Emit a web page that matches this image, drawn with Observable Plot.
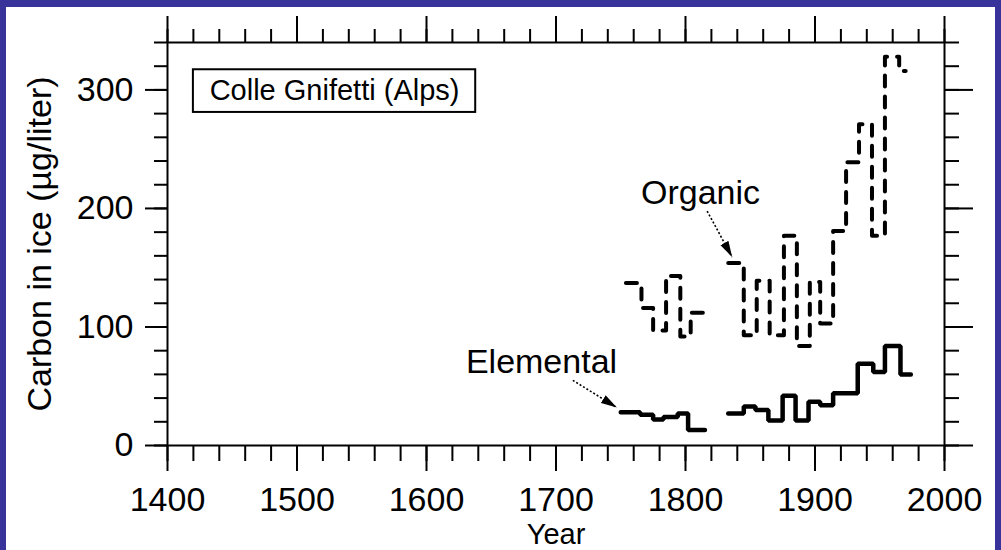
<!DOCTYPE html>
<html>
<head>
<meta charset="utf-8">
<script src="https://cdn.jsdelivr.net/npm/d3@7"></script>
<script src="https://cdn.jsdelivr.net/npm/@observablehq/plot@0.6"></script>
<style>
  html, body { margin: 0; padding: 0; background: #37339a; width: 1001px; height: 550px; overflow: hidden; }
  #wrap { position: absolute; left: 6px; top: 7px; width: 989px; height: 543px; background: white; overflow: hidden; }
</style>
</head>
<body>
<div id="wrap"></div>
<script>
// ---- data ----
const organicYears1 = [1754, 1766, 1775, 1785, 1796, 1804, 1816];
const organicValues1 = [137, 116, 97, 143, 92, 112, 112];
const organicYears2 = [1833, 1845, 1855, 1865, 1876, 1886, 1896, 1904, 1914, 1924, 1934, 1944, 1954, 1965, 1970];
const organicValues2 = [154, 93, 139, 93, 177, 84, 138, 103, 181, 239, 271, 177, 328, 316, 316];

const elementalYears1 = [1750, 1765, 1775, 1783, 1794, 1802, 1815];
const elementalValues1 = [28, 26, 22, 24, 27, 13, 13];
const elementalYears2 = [1833, 1845, 1854, 1864, 1875, 1885, 1895, 1904, 1914, 1933, 1945, 1954, 1966, 1974];
const elementalValues2 = [27, 33, 30, 21, 42, 21, 37, 34, 44, 69, 62, 84, 60, 60];

const xMajorTicks = [1400, 1500, 1600, 1700, 1800, 1900, 2000];
const xMinorTicks = d3.range(1400, 2001, 20);
const yMajorTicks = [0, 100, 200, 300];
const yMinorTicks = d3.range(0, 341, 20);

const xTitle = "Year";
const yTitle = "Carbon in ice (µg/liter)";

// annotations (in data units)
const labelTexts = ["Organic", "Elemental"];
const labelYears = [1811.6, 1688.8];
const labelValues = [212.7, 70];

const boxText = "Colle Gnifetti (Alps)";
const boxYears = [1420, 1638];
const boxValues = [281, 317];

const arrowFromYears = [1816.7, 1713];
const arrowFromValues = [197.7, 55];
const arrowToYears = [1836, 1747];
const arrowToValues = [159, 32];

// ---- tables ----
function series(years, values, section) {
  return years.map((year, i) => ({year, value: values[i], section}));
}
const organic = [...series(organicYears1, organicValues1, 1), ...series(organicYears2, organicValues2, 2)];
const elemental = [...series(elementalYears1, elementalValues1, 1), ...series(elementalYears2, elementalValues2, 2)];
const labels = labelTexts.map((text, i) => ({text, year: labelYears[i], value: labelValues[i]}));
const arrows = arrowFromYears.map((x1, i) => ({x1, y1: arrowFromValues[i], x2: arrowToYears[i], y2: arrowToValues[i]}));

function filledArrow(color, context) {
  const m = d3.create("svg:marker")
    .attr("viewBox", "-16 -6 16 12")
    .attr("markerUnits", "userSpaceOnUse")
    .attr("markerWidth", 16)
    .attr("markerHeight", 12)
    .attr("refX", 0)
    .attr("refY", 0)
    .attr("orient", "auto");
  m.append("path").attr("d", "M-16,-4.5L0,0L-16,4.5Z").attr("fill", "black").attr("stroke", "none");
  return m.node();
}

const font = "'Liberation Sans', Arial, Helvetica, sans-serif";
const blank = () => "";

const plot = Plot.plot({
  width: 989,
  height: 543,
  marginTop: 35,
  marginBottom: 105,
  marginLeft: 161,
  marginRight: 51,
  style: {fontFamily: font, color: "black", background: "white"},
  x: {domain: [1400, 2000], label: null},
  y: {domain: [0, 340], label: null},
  marks: [
    // bottom axis
    Plot.axisX(xMinorTicks, {anchor: "bottom", tickSize: 16, tickFormat: blank, strokeWidth: 2, label: null}),
    Plot.axisX(xMajorTicks, {anchor: "bottom", tickSize: 26, tickPadding: 15, fontSize: 34, strokeWidth: 2, tickFormat: d => `${d}`, label: null}),
    // top axis
    Plot.axisX(xMinorTicks, {anchor: "top", tickSize: 14, tickFormat: blank, strokeWidth: 2, label: null}),
    Plot.axisX(xMajorTicks, {anchor: "top", tickSize: 27, tickFormat: blank, strokeWidth: 2, label: null}),
    // left axis
    Plot.axisY(yMinorTicks, {anchor: "left", tickSize: 13, tickFormat: blank, strokeWidth: 2, label: null}),
    Plot.axisY(yMajorTicks, {anchor: "left", tickSize: 22, tickPadding: 12, fontSize: 34, strokeWidth: 2, tickFormat: d => `${d}`, label: null}),
    // right axis
    Plot.axisY(yMinorTicks, {anchor: "right", tickSize: 14, tickFormat: blank, strokeWidth: 2, label: null}),
    Plot.axisY(yMajorTicks, {anchor: "right", tickSize: 28, tickFormat: blank, strokeWidth: 2, label: null}),
    Plot.frame({stroke: "black", strokeWidth: 2}),
    // titles
    Plot.text([xTitle], {text: d => d, frameAnchor: "bottom", dy: 98, lineAnchor: "bottom", textAnchor: "middle", fontSize: 29, fill: "black"}),
    Plot.text([yTitle], {text: d => d, frameAnchor: "left", rotate: -90, dx: -117, lineAnchor: "bottom", textAnchor: "middle", fontSize: 34, fill: "black"}),
    // box label
    Plot.rect([0], {x1: () => boxYears[0], x2: () => boxYears[1], y1: () => boxValues[0], y2: () => boxValues[1], fill: "none", stroke: "black", strokeWidth: 2}),
    Plot.text([boxText], {text: d => d, x: () => (boxYears[0] + boxYears[1]) / 2, y: () => (boxValues[0] + boxValues[1]) / 2, fontSize: 29, fill: "black"}),
    // series
    Plot.line(organic, {x: "year", y: "value", z: "section", curve: "step-after", stroke: "black", strokeWidth: 4, strokeDasharray: "11,10"}),
    Plot.line(elemental, {x: "year", y: "value", z: "section", curve: "step-after", stroke: "black", strokeWidth: 4.5, strokeLinejoin: "miter"}),
    // annotations
    Plot.text(labels, {x: "year", y: "value", text: "text", fontSize: 34, fill: "black"}),
    Plot.link(arrows, {x1: "x1", y1: "y1", x2: "x2", y2: "y2", stroke: "black", strokeWidth: 1.6, strokeDasharray: "2,2", markerEnd: filledArrow})
  ]
});

document.getElementById("wrap").appendChild(plot);
</script>
</body>
</html>
